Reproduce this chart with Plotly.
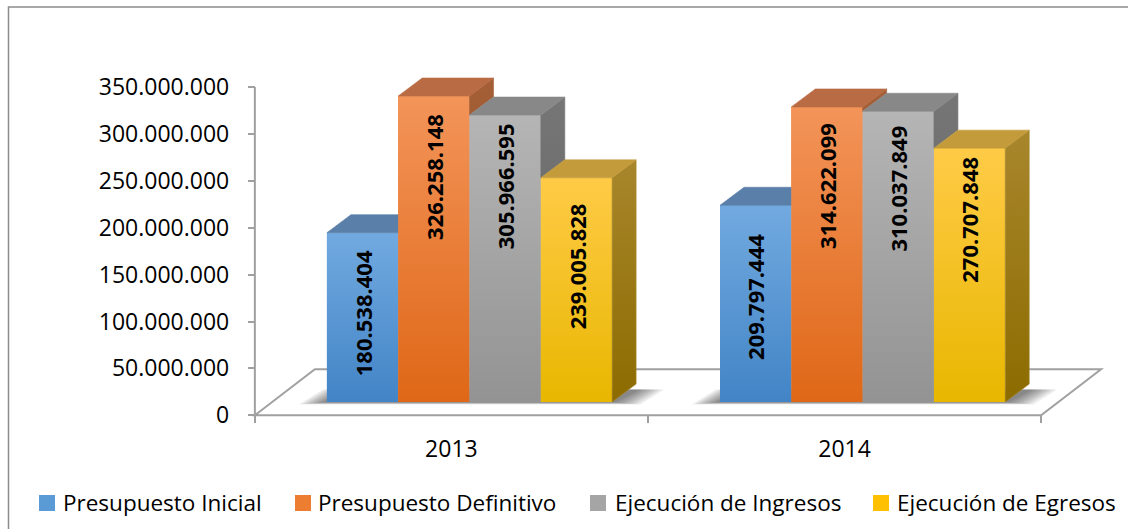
import plotly.graph_objects as go

# ---------------- data ----------------
years = ["2013", "2014"]
series_names = ["Presupuesto Inicial", "Presupuesto Definitivo",
                "Ejecución de Ingresos", "Ejecución de Egresos"]
presupuesto_inicial = [180538404, 209797444]
presupuesto_definitivo = [326258148, 314622099]
ejecucion_ingresos = [305966595, 310037849]
ejecucion_egresos = [239005828, 270707848]
y_tick_values = [0, 50000000, 100000000, 150000000, 200000000,
                 250000000, 300000000, 350000000]

values = [presupuesto_inicial, presupuesto_definitivo,
          ejecucion_ingresos, ejecucion_egresos]

# ---------------- styles ----------------
front_mid = ["#5b9bd5", "#ed7d31", "#a5a5a5", "#ffc000"]
front_top = ["#72aae0", "#f39459", "#b5b5b5", "#ffcb47"]
front_bot = ["#4284c6", "#df6717", "#939393", "#e8b700"]
top_face = ["#5a7fa9", "#b96b43", "#888888", "#c49b3b"]
side_top = ["#4a6f99", "#a55f37", "#767676", "#a8862c"]
side_bot = ["#365a85", "#8f4d22", "#5f5f5f", "#8c6c00"]
label_pad_px = [[16, 27], [16, 14], [6, 12], [23, 7]]

FONT = "Open Sans"
W, H = 1128, 529
ML, MR, MT, MB = 247, 24, 73, 109
PW, PH = W - ML - MR, H - MT - MB
X_RANGE = [-0.52, 1.66]
Y_RANGE = [-5e6, 365e6]
PX2X = (X_RANGE[1] - X_RANGE[0]) / PW
PX2Y = (Y_RANGE[1] - Y_RANGE[0]) / PH

BAR_W = 71.3 * PX2X
BAR_DX, BAR_DY = 24 * PX2X, 18 * PX2Y
FLOOR_DX, FLOOR_DY = 60 * PX2X, 46 * PX2Y
SHIFT_X, BASE_Y = 18.1 * PX2X, 13.3 * PX2Y

n_cat = len(years)
n_ser = len(values)
xcat = list(range(n_cat))

fig = go.Figure()

# front faces: real bars
for i, (name, vals) in enumerate(zip(series_names, values)):
    fig.add_trace(go.Bar(
        x=xcat, y=vals, base=BASE_Y, name=name,
        width=BAR_W, offset=SHIFT_X + (i - n_ser / 2) * BAR_W,
        marker=dict(color=front_mid[i], line=dict(width=0)),
        showlegend=False, hoverinfo="skip"))


def poly(pts, **kw):
    xs = [p[0] for p in pts] + [pts[0][0]]
    ys = [p[1] for p in pts] + [pts[0][1]]
    fig.add_trace(go.Scatter(x=xs, y=ys, mode="lines", fill="toself",
                             hoverinfo="skip", showlegend=False, **kw))


annotations = []
for j in range(n_cat):
    for i in range(n_ser):
        v = values[i][j]
        xl = j + SHIFT_X + (i - n_ser / 2) * BAR_W
        xr = xl + BAR_W
        b = BASE_Y
        t = BASE_Y + v
        nt = BASE_Y + values[i + 1][j] if i < n_ser - 1 else None
        # front gradient
        poly([(xl, b), (xr, b), (xr, t), (xl, t)],
             line=dict(width=0, color=front_mid[i]),
             fillgradient=dict(type="vertical", start=b, stop=t,
                               colorscale=[[0, front_bot[i]], [1, front_top[i]]]))
        # side face (visible part)
        lower = None
        if nt is None:
            lower = b
        elif nt < t:
            lower = nt
        if lower is not None:
            poly([(xr, lower), (xr, t), (xr + BAR_DX, t + BAR_DY), (xr + BAR_DX, lower + BAR_DY)],
                 line=dict(width=0.6, color=side_top[i]),
                 fillgradient=dict(type="vertical", start=b, stop=t + BAR_DY,
                                   colorscale=[[0, side_bot[i]], [1, side_top[i]]]))
        # top face (visible part)
        if nt is None or nt <= t:
            pts = [(xl, t), (xr, t), (xr + BAR_DX, t + BAR_DY), (xl + BAR_DX, t + BAR_DY)]
        elif nt >= t + BAR_DY:
            pts = [(xl, t), (xr, t), (xr, t + BAR_DY), (xl + BAR_DX, t + BAR_DY)]
        else:
            pts = [(xl, t), (xr, t), (xr, nt), (xr + (nt - t) / BAR_DY * BAR_DX, nt),
                   (xr + BAR_DX, t + BAR_DY), (xl + BAR_DX, t + BAR_DY)]
        poly(pts, line=dict(width=0.6, color=top_face[i]), fillcolor=top_face[i])
        # data label
        annotations.append(dict(
            x=(xl + xr) / 2, y=t, xref="x", yref="y",
            text=f"{v:,}".replace(",", "."), textangle=-90,
            xanchor="center", yanchor="top", yshift=-label_pad_px[i][j],
            showarrow=False, font=dict(family=FONT, size=22, color="#000000",
                                       weight="bold")))

shapes = []
# floor
fx0, fx1 = -0.5, n_cat - 0.5
shapes.append(dict(type="path", xref="x", yref="y", layer="below",
                   path=f"M{fx0},0 L{fx1},0 L{fx1 + FLOOR_DX},{FLOOR_DY} L{fx0 + FLOOR_DX},{FLOOR_DY} Z",
                   fillcolor="white", line=dict(color="#a0a0a0", width=2)))
# soft shadows under each group
N_SH = 8
for j in range(n_cat):
    gx0 = j + SHIFT_X - n_ser / 2 * BAR_W
    gx1 = j + SHIFT_X + n_ser / 2 * BAR_W
    for k in range(N_SH):
        e = (N_SH - k) * 3.5 * PX2X
        ey = (N_SH - k) * 0.3 * PX2Y
        shapes.append(dict(
            type="path", xref="x", yref="y", layer="below",
            path=(f"M{gx0 - e},{BASE_Y - ey} L{gx1 + e},{BASE_Y - ey} "
                  f"L{gx1 + BAR_DX + e},{BASE_Y + BAR_DY * 0.7} L{gx0 + BAR_DX - e},{BASE_Y + BAR_DY * 0.7} Z"),
            fillcolor="rgba(0,0,0,0.075)", line=dict(width=0)))
# value axis line
shapes.append(dict(type="line", xref="x", yref="y", layer="below",
                   x0=-0.5, x1=-0.5, y0=0, y1=y_tick_values[-1],
                   line=dict(color="#a0a0a0", width=2)))


def px_x(p):
    return (p - ML) / PW


def px_y(p):
    return (H - MB - p) / PH


# outer frame
shapes.append(dict(type="rect", xref="paper", yref="paper",
                   x0=px_x(8.5), x1=px_x(1145), y0=px_y(560), y1=px_y(7),
                   line=dict(color="#8c8c8c", width=1.5), fillcolor="rgba(0,0,0,0)"))

# manual legend
legend_sq_px = [39, 295, 590, 873]
legend_tx_px = [60.5, 316, 613, 895]
for i, name in enumerate(series_names):
    shapes.append(dict(type="rect", xref="paper", yref="paper",
                       x0=px_x(legend_sq_px[i]), x1=px_x(legend_sq_px[i] + 16),
                       y0=px_y(511), y1=px_y(495),
                       fillcolor=front_mid[i], line=dict(width=0)))
    annotations.append(dict(x=px_x(legend_tx_px[i]), y=px_y(502), xref="paper", yref="paper",
                            text=name, showarrow=False, xanchor="left", yanchor="middle",
                            font=dict(family=FONT, size=22.5, color="#000000")))

fig.update_layout(
    width=W, height=H,
    margin=dict(l=ML, r=MR, t=MT, b=MB, pad=0),
    paper_bgcolor="white", plot_bgcolor="white",
    barmode="overlay", showlegend=False,
    separators=",.",
    font=dict(family=FONT, size=23, color="#000000"),
    shapes=shapes, annotations=annotations,
    xaxis=dict(range=X_RANGE, tickmode="array", tickvals=xcat, ticktext=years,
               ticks="", showgrid=False, zeroline=False, showline=False,
               anchor="free", position=(0 - Y_RANGE[0]) / (Y_RANGE[1] - Y_RANGE[0]),
               ticklabelstandoff=18,
               tickfont=dict(family=FONT, size=23, color="#000000"),
               minor=dict(tickmode="array", tickvals=[-0.5 + k for k in range(n_cat + 1)],
                          ticks="outside", ticklen=7, tickwidth=1.5, tickcolor="#a0a0a0",
                          showgrid=False)),
    yaxis=dict(range=Y_RANGE, tickmode="array", tickvals=y_tick_values,
               tickformat=",d", ticks="outside", ticklen=7, tickwidth=1.5,
               tickcolor="#a0a0a0", showgrid=False, zeroline=False, showline=False,
               anchor="free", position=(-0.5 - X_RANGE[0]) / (X_RANGE[1] - X_RANGE[0]),
               ticklabelstandoff=14,
               tickfont=dict(family=FONT, size=23, color="#000000")),
)

fig.write_html("out.html", config={"displayModeBar": False},
               post_script="document.body.style.margin='0px';document.body.style.overflow='hidden';")
